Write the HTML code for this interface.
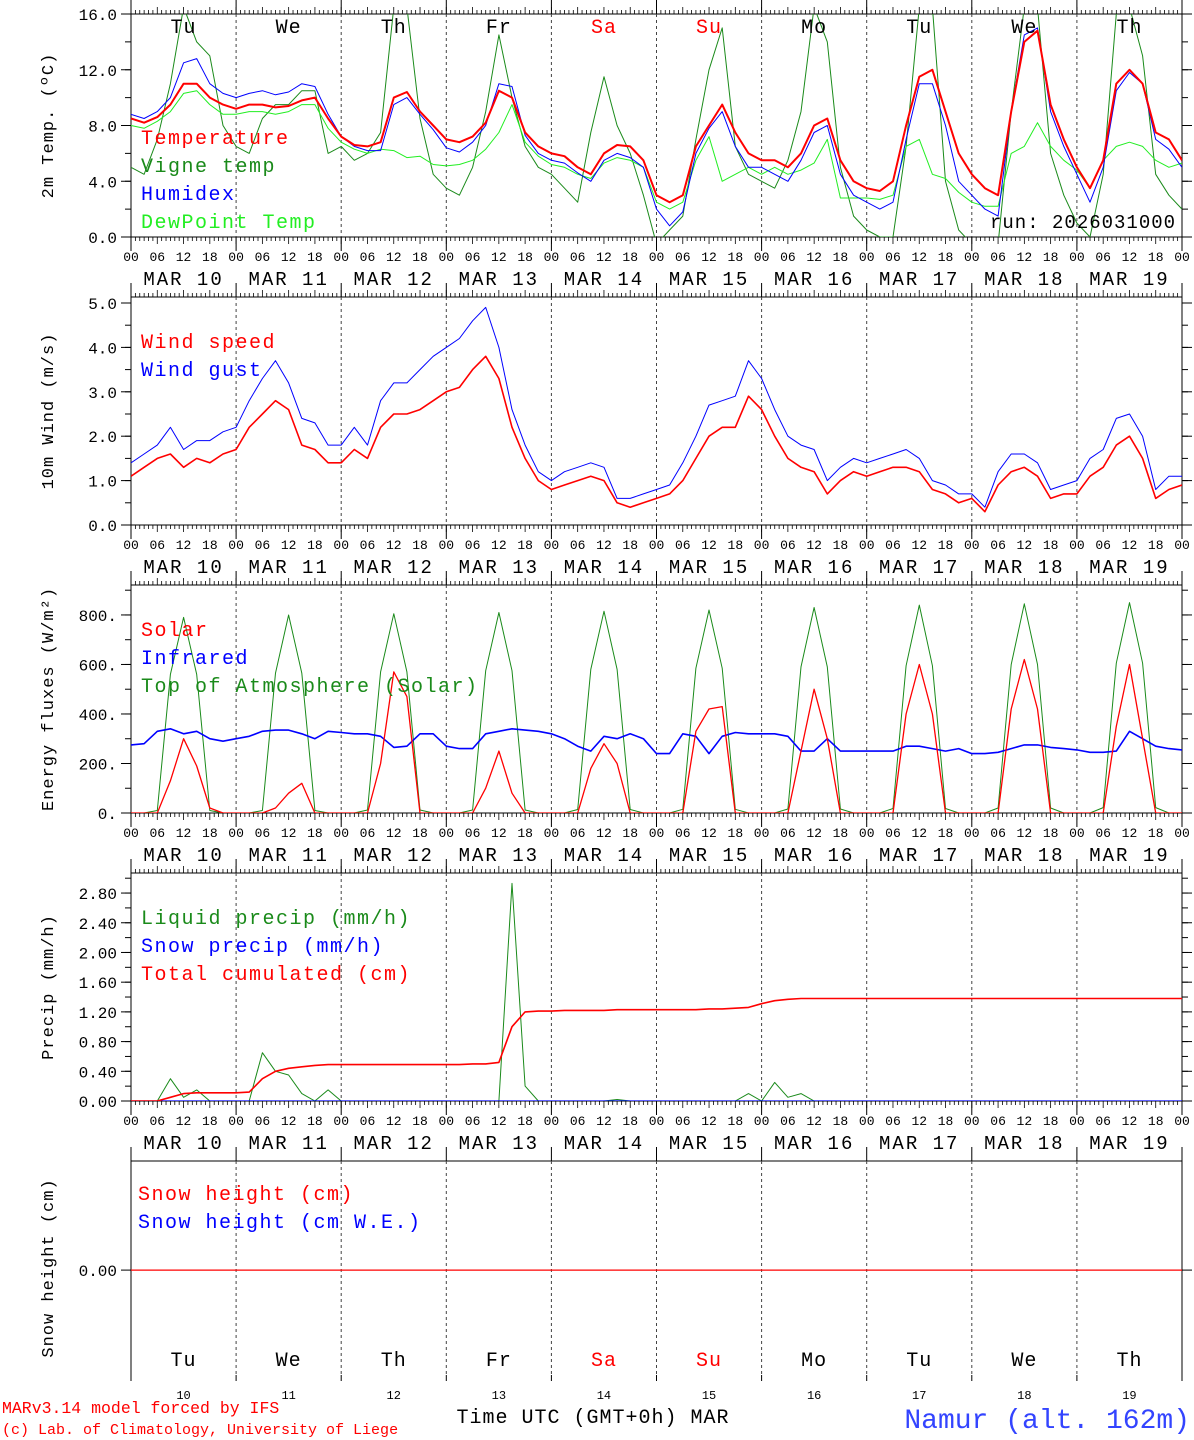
<!DOCTYPE html>
<html><head><meta charset="utf-8">
<style>
html,body{margin:0;padding:0;background:#fff;}
svg{display:block;font-family:"Liberation Mono",monospace;}
</style></head>
<body>
<svg id="chart" width="1194" height="1440" viewBox="0 0 1194 1440" xmlns="http://www.w3.org/2000/svg"></svg>
<script>
// ---- data (3-hourly, hours 0..240 from MAR 10 00 UTC) ----
const dayNames = ["Tu","We","Th","Fr","Sa","Su","Mo","Tu","We","Th"];
const dayNums = ["10","11","12","13","14","15","16","17","18","19"];
const hourLabels = ["00","06","12","18"];
const tempTicks = [0,4,8,12,16];
const windTicks = [0,1,2,3,4,5];
const fluxTicks = [0,200,400,600,800];
const precipTicks = [0,0.4,0.8,1.2,1.6,2.0,2.4,2.8];

const temperature = [8.5,8.2,8.6,9.5,11.0,11.0,10.0,9.5, 9.2,9.5,9.5,9.3,9.4,9.8,10.0,8.5, 7.2,6.6,6.5,6.8,10.0,10.4,9.0,8.0, 7.0,6.8,7.2,8.2,10.5,10.0,7.5,6.5, 6.0,5.8,5.0,4.5,6.0,6.6,6.5,5.5, 3.0,2.5,3.0,6.5,8.0,9.5,7.5,6.0, 5.5,5.5,5.0,6.0,8.0,8.5,5.5,4.0, 3.5,3.3,4.0,8.0,11.5,12.0,9.0,6.0, 4.5,3.5,3.0,9.0,14.0,14.8,9.5,7.0, 5.0,3.5,5.5,11.0,12.0,11.0,7.5,7.0,5.5];
const vigneTemp = [5.0,4.5,7.0,11.0,16.5,14.0,13.0,8.0, 6.5,6.0,8.5,9.5,9.5,10.5,10.5,6.0, 6.5,5.5,6.0,7.5,16.5,16.5,8.5,4.5, 3.5,3.0,5.0,9.0,14.5,10.0,6.5,5.0, 4.5,3.5,2.5,7.5,11.5,8.0,6.0,3.0, -0.5,0.5,1.5,7.0,12.0,15.0,6.5,4.5, 4.0,3.5,5.5,9.0,16.5,14.0,5.0,1.5, 0.5,0,0,6.5,16.5,16.5,4.0,0.5, -0.5,-1,-0.5,9,16.5,16.5,6,3, 1.0,0,4.5,16,16.5,13.0,4.5,3.0,2.0];
const humidex = [8.8,8.5,9.0,10.0,12.5,12.8,11.0,10.3, 10.0,10.3,10.5,10.2,10.4,11.0,10.8,8.8, 7.2,6.5,6.2,6.2,9.5,10.0,8.8,7.7, 6.4,6.1,6.8,8.0,11.0,10.8,7.3,6.0, 5.5,5.3,4.6,4.0,5.5,6.0,5.7,5.0, 2.0,0.8,1.8,6.0,7.8,9.0,6.5,5.0, 5.0,4.5,4.0,5.5,7.5,8.0,4.5,3.0, 2.5,2.0,2.5,7.0,11.0,11.0,8.0,4.0, 3.0,2.0,1.5,9.0,14.5,15.0,9.0,6.5, 4.5,2.5,5.0,10.5,11.8,11.0,7.0,6.3,5.0];
const dewPoint = [8.0,7.8,8.3,9.0,10.3,10.5,9.5,8.8, 8.8,9.0,9.0,8.8,9.0,9.5,9.5,7.8, 6.8,6.3,6.0,6.3,6.2,5.7,5.8,5.2, 5.1,5.2,5.5,6.3,7.5,9.5,6.8,5.8, 5.2,5.0,4.5,4.2,5.3,5.7,5.5,5.0, 2.5,2.0,2.5,5.5,7.2,4.0,4.5,5.0, 4.5,5.0,4.5,4.8,5.3,7.0,2.8,2.8, 2.8,2.7,3.0,6.5,7.0,4.5,4.2,3.2, 2.5,2.2,2.2,6.0,6.5,8.2,6.5,5.5, 4.8,3.5,5.5,6.5,6.8,6.5,5.5,5.0,5.3];

const windSpeed = [1.1,1.3,1.5,1.6,1.3,1.5,1.4,1.6, 1.7,2.2,2.5,2.8,2.6,1.8,1.7,1.4, 1.4,1.7,1.5,2.2,2.5,2.5,2.6,2.8, 3.0,3.1,3.5,3.8,3.3,2.2,1.5,1.0, 0.8,0.9,1.0,1.1,1.0,0.5,0.4,0.5, 0.6,0.7,1.0,1.5,2.0,2.2,2.2,2.9, 2.6,2.0,1.5,1.3,1.2,0.7,1.0,1.2, 1.1,1.2,1.3,1.3,1.2,0.8,0.7,0.5, 0.6,0.3,0.9,1.2,1.3,1.1,0.6,0.7, 0.7,1.1,1.3,1.8,2.0,1.5,0.6,0.8,0.9];
const windGust = [1.4,1.6,1.8,2.2,1.7,1.9,1.9,2.1, 2.2,2.8,3.3,3.7,3.2,2.4,2.3,1.8, 1.8,2.2,1.8,2.8,3.2,3.2,3.5,3.8, 4.0,4.2,4.6,4.9,4.0,2.6,1.8,1.2, 1.0,1.2,1.3,1.4,1.3,0.6,0.6,0.7, 0.8,0.9,1.4,2.0,2.7,2.8,2.9,3.7, 3.3,2.6,2.0,1.8,1.7,1.0,1.3,1.5, 1.4,1.5,1.6,1.7,1.5,1.0,0.9,0.7, 0.7,0.4,1.2,1.6,1.6,1.4,0.8,0.9, 1.0,1.5,1.7,2.4,2.5,2.0,0.8,1.1,1.1];

const solar = [0,0,0,130,300,190,20,0, 0,0,0,20,80,120,0,0, 0,0,0,200,570,470,0,0, 0,0,0,100,250,80,0,0, 0,0,0,180,280,200,0,0, 0,0,0,330,420,430,0,0, 0,0,0,250,500,300,0,0, 0,0,0,400,600,400,0,0, 0,0,0,420,620,420,0,0, 0,0,0,350,600,300,0,0,0];
const infrared = [275,280,330,340,320,330,300,290, 300,310,330,335,335,320,300,330, 325,320,320,310,265,270,320,320, 270,260,260,320,330,340,335,330, 320,300,270,250,310,300,320,300, 240,240,320,310,240,310,325,320, 320,320,310,250,250,300,250,250, 250,250,250,270,270,260,250,260, 240,240,245,260,275,275,265,260, 255,245,245,250,330,300,270,260,255];
const toaSolar = [0,0,10,560,790,560,10,0, 0,0,10,565,800,565,10,0, 0,0,12,570,805,570,12,0, 0,0,12,575,810,575,12,0, 0,0,14,580,815,580,14,0, 0,0,15,585,820,585,15,0, 0,0,16,590,830,590,16,0, 0,0,18,595,840,595,18,0, 0,0,20,600,845,600,20,0, 0,0,22,605,850,605,22,0,0];

const liquidPrecip = [0,0,0,0.3,0.05,0.15,0,0, 0,0,0.65,0.4,0.35,0.1,0,0.15, 0,0,0,0,0,0,0,0, 0,0,0,0,0,2.93,0.2,0, 0,0,0,0,0,0.02,0,0, 0,0,0,0,0,0,0,0.1, 0,0.25,0.05,0.1,0,0,0,0, 0,0,0,0,0,0,0,0, 0,0,0,0,0,0,0,0, 0,0,0,0,0,0,0,0,0];
const snowPrecip = [0,0,0,0,0,0,0,0, 0,0,0,0,0,0,0,0, 0,0,0,0,0,0,0,0, 0,0,0,0,0,0,0,0, 0,0,0,0,0,0,0,0, 0,0,0,0,0,0,0,0, 0,0,0,0,0,0,0,0, 0,0,0,0,0,0,0,0, 0,0,0,0,0,0,0,0, 0,0,0,0,0,0,0,0,0];
const totalCum = [0,0,0,0.05,0.1,0.11,0.11,0.11, 0.11,0.12,0.3,0.4,0.44,0.46,0.48,0.49, 0.49,0.49,0.49,0.49,0.49,0.49,0.49,0.49, 0.49,0.49,0.5,0.5,0.52,1.0,1.2,1.21, 1.21,1.22,1.22,1.22,1.22,1.23,1.23,1.23, 1.23,1.23,1.23,1.23,1.24,1.24,1.25,1.26, 1.31,1.35,1.37,1.38,1.38,1.38,1.38,1.38, 1.38,1.38,1.38,1.38,1.38,1.38,1.38,1.38, 1.38,1.38,1.38,1.38,1.38,1.38,1.38,1.38, 1.38,1.38,1.38,1.38,1.38,1.38,1.38,1.38,1.38];
const snowHeight = [0,0,0,0,0,0,0,0, 0,0,0,0,0,0,0,0, 0,0,0,0,0,0,0,0, 0,0,0,0,0,0,0,0, 0,0,0,0,0,0,0,0, 0,0,0,0,0,0,0,0, 0,0,0,0,0,0,0,0, 0,0,0,0,0,0,0,0, 0,0,0,0,0,0,0,0, 0,0,0,0,0,0,0,0,0];

// ---- drawing ----
const NS = "http://www.w3.org/2000/svg";
const svg = document.getElementById("chart");
const X0 = 131, X1 = 1182, HOURS = 240, STEP = 3;
function xOf(h){ return X0 + h*(X1-X0)/HOURS; }
function mk(tag, attrs, parent){
  const e = document.createElementNS(NS, tag);
  for (const k in attrs) e.setAttribute(k, attrs[k]);
  (parent||svg).appendChild(e);
  return e;
}
function txt(s, x, y, size, fill, anchor, parent, ls){
  const t = mk("text", {x:x, y:y, "font-size":size, fill:fill, "text-anchor":anchor||"start"}, parent);
  if (ls) t.setAttribute("letter-spacing", ls);
  t.textContent = s;
  return t;
}

const panels = [
  {name:"temperature", top:14, bottom:237, ymin:0, ymax:16, ticks:tempTicks, minor:2, fmt:v=>v.toFixed(1), title:"2m Temp. (ºC)"},
  {name:"wind", top:297, bottom:525, ymin:0, ymax:5.135, ticks:windTicks, minor:0.5, fmt:v=>v.toFixed(1), title:"10m Wind (m/s)"},
  {name:"flux", top:585, bottom:813, ymin:0, ymax:921, ticks:fluxTicks, minor:100, fmt:v=>v.toFixed(0)+".", title:"Energy fluxes (W/m²)"},
  {name:"precip", top:873, bottom:1101, ymin:0, ymax:3.07, ticks:precipTicks, minor:0.2, fmt:v=>v.toFixed(2), title:"Precip (mm/h)"},
  {name:"snow", top:1161, bottom:1375, ymin:-1, ymax:1.04, ticks:[0], minor:null, fmt:v=>v.toFixed(2), title:"Snow height (cm)"}
];

panels.forEach((p, pi) => {
  const g = mk("g", {});
  
  
  p.y = v => p.bottom - (v - p.ymin)/(p.ymax - p.ymin)*(p.bottom - p.top);
  const last = pi === 4;
  mk("line", {x1:X0, y1:p.top, x2:X1, y2:p.top, stroke:"#000", "stroke-width":1}, g);
  if (!last) mk("line", {x1:X0, y1:p.bottom, x2:X1, y2:p.bottom, stroke:"#000", "stroke-width":1}, g);
  mk("line", {x1:X0, y1:p.top, x2:X0, y2:p.bottom, stroke:"#000"}, g);
  mk("line", {x1:X1, y1:p.top, x2:X1, y2:p.bottom, stroke:"#000"}, g);
  for (let d = 0; d <= 10; d++){
    const x = xOf(d*24);
    if (d > 0 && d < 10) mk("line", {x1:x, y1:p.top, x2:x, y2:p.bottom, stroke:"#444", "stroke-dasharray":"3,3"}, g);
    mk("line", {x1:x, y1:p.top-14, x2:x, y2:p.top, stroke:"#000"}, g);
    mk("line", {x1:x, y1:p.bottom, x2:x, y2:p.bottom+(last?6:14), stroke:"#000"}, g);
  }
  if (!last){
    for (let h = 0; h <= HOURS; h++){
      const x = xOf(h);
      const len = (h % 6 === 0) ? 7 : 4;
      mk("line", {x1:x, y1:p.top-len, x2:x, y2:p.top, stroke:"#000", "stroke-width":0.8}, g);
      mk("line", {x1:x, y1:p.bottom, x2:x, y2:p.bottom+len, stroke:"#000", "stroke-width":0.8}, g);
    }
    for (let d = 0; d < 10; d++){
      hourLabels.forEach((lab, i) => {
        const t = txt(lab, xOf(d*24 + i*6), p.bottom+24, 13, "#000", "middle", g);
        
        
      });
      const t = txt("MAR " + dayNums[d], xOf(d*24+12), p.bottom+48, 19, "#000", "middle", g, 2);
      
      
    }
    txt("00", X1, p.bottom+24, 13, "#000", "middle", g);
  }
  if (p.minor){
    for (let v = p.ymin; v <= p.ymax + 1e-9; v += p.minor){
      const y = p.y(v);
      mk("line", {x1:X0-6, y1:y, x2:X0, y2:y, stroke:"#000"}, g);
      mk("line", {x1:X1, y1:y, x2:X1+6, y2:y, stroke:"#000"}, g);
    }
  }
  p.ticks.forEach(v => {
    const y = p.y(v);
    mk("line", {x1:X0-10, y1:y, x2:X0, y2:y, stroke:"#000"}, g);
    mk("line", {x1:X1, y1:y, x2:X1+10, y2:y, stroke:"#000"}, g);
    const t = txt(p.fmt(v), X0-14, y+6, 16, "#000", "end", g);
    
    
  });
  const cy = (p.top + p.bottom)/2;
  const tt = txt(p.title, 0, 0, 17, "#000", "middle", g, 1);
  tt.setAttribute("transform", "translate(53," + cy + ") rotate(-90)");
  
  
  const cp = mk("clipPath", {id:"clip"+pi}, g);
  mk("rect", {x:X0, y:p.top, width:X1-X0, height:p.bottom-p.top}, cp);
});

function series(p, data, color, width, name){
  const pts = data.map((v, i) => xOf(i*STEP).toFixed(1) + "," + p.y(v).toFixed(1)).join(" ");
  const pl = mk("polyline", {points:pts, fill:"none", stroke:color, "stroke-width":width, "stroke-linejoin":"round", "clip-path":"url(#clip"+panels.indexOf(p)+")"});
  
  
}
function legend(items, x, y0){
  items.forEach((it, i) => {
    const t = txt(it[0], x, y0 + i*28, 20, it[1], "start", null, 1.5);
    
    
  });
}

const P = panels;
series(P[0], vigneTemp, "#1a8a1a", 1, "vigne-temp-line");
series(P[0], dewPoint, "#22ee22", 1, "dewpoint-line");
series(P[0], humidex, "#0000ff", 1, "humidex-line");
series(P[0], temperature, "#ff0000", 2, "temperature-line");
legend([["Temperature","#ff0000"],["Vigne temp","#1a8a1a"],["Humidex","#0000ff"],["DewPoint Temp","#22ee22"]], 141, 144);
dayNames.forEach((d, i) => {
  const t = txt(d, xOf(i*24+12), 33, 20, (d==="Sa"||d==="Su")?"#ff0000":"#000", "middle", null, 1);
  
  
});
const run = txt("run: 2026031000", 990, 228, 19, "#000", "start", null, 1);



series(P[1], windGust, "#0000ff", 1, "wind-gust-line");
series(P[1], windSpeed, "#ff0000", 1.6, "wind-speed-line");
legend([["Wind speed","#ff0000"],["Wind gust","#0000ff"]], 141, 348);

series(P[2], toaSolar, "#1a8a1a", 1, "toa-solar-line");
series(P[2], infrared, "#0000ff", 1.6, "infrared-line");
series(P[2], solar, "#ff0000", 1.3, "solar-line");
legend([["Solar","#ff0000"],["Infrared","#0000ff"],["Top of Atmosphere (Solar)","#1a8a1a"]], 141, 636);

series(P[3], liquidPrecip, "#1a8a1a", 1, "liquid-precip-line");
series(P[3], snowPrecip, "#0000ff", 1.3, "snow-precip-line");
series(P[3], totalCum, "#ff0000", 1.6, "total-cumulated-line");
legend([["Liquid precip (mm/h)","#1a8a1a"],["Snow precip (mm/h)","#0000ff"],["Total cumulated (cm)","#ff0000"]], 141, 924);

series(P[4], snowHeight, "#ff0000", 1.3, "snow-height-line");
legend([["Snow height (cm)","#ff0000"],["Snow height (cm W.E.)","#0000ff"]], 138, 1200);
dayNames.forEach((d, i) => {
  const t = txt(d, xOf(i*24+12), 1366, 20, (d==="Sa"||d==="Su")?"#ff0000":"#000", "middle", null, 1);
  
  
  const n = txt(dayNums[i], xOf(i*24+12), 1399, 12, "#000", "middle");
  
  
});
const xt = txt("Time UTC (GMT+0h) MAR", 593, 1423, 20, "#000", "middle", null, 1);


const c1 = txt("MARv3.14 model forced by IFS", 2, 1413, 16.5, "#ff0000");


const c2 = txt("(c) Lab. of Climatology, University of Liege", 2, 1434, 15, "#ff0000");


const loc = txt("Namur (alt. 162m)", 1190, 1428, 28, "#3344ff", "end");


</script>
</body></html>
